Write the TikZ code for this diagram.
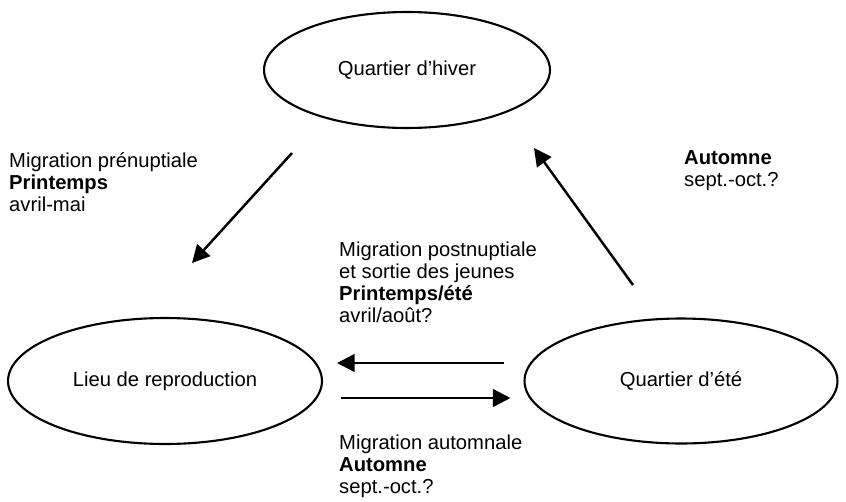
\documentclass[tikz,border=0pt]{standalone}
\usepackage{fontspec}
\defaultfontfeatures{}
\setmainfont{Liberation Sans}
\usetikzlibrary{arrows.meta,shapes.geometric}
\begin{document}
\begin{tikzpicture}[x=0.02cm,y=-0.02cm,line width=1.4pt,>={Triangle[length=10pt,width=10pt]},
		font=\fontsize{11.5}{12.5}\selectfont,
		lieu/.style={draw,ellipse,inner sep=0pt,line width=1.2pt},
		texte/.style={anchor=west,align=left,inner sep=0pt}]
	\useasboundingbox (0,0) rectangle (846,501);
	% les trois lieux
	\node[lieu,minimum width=5.72cm,minimum height=2.32cm] (hiver) at (407,70) {Quartier d'hiver};
	\node[lieu,minimum width=6.28cm,minimum height=2.52cm] (repro) at (165,381) {Lieu de reproduction};
	\node[lieu,minimum width=6.26cm,minimum height=2.50cm] (ete) at (681,381) {Quartier d'été};
	% fleches
	\coordinate (pre1) at (292,153);
	\coordinate (pre2) at (192,263);
	\draw[->] (pre1) -- (pre2);
	\coordinate (aut1) at (633,285);
	\coordinate (aut2) at (534,148);
	\draw[->] (aut1) -- (aut2);
	\draw[->] ([yshift=0.36cm,xshift=-0.38cm]ete.west) -- ([yshift=0.36cm,xshift=0.28cm]repro.east);
	\draw[->] ([yshift=-0.34cm,xshift=0.36cm]repro.east) -- ([yshift=-0.34cm,xshift=-0.26cm]ete.west);
	% textes
	\node[texte] (prenup) at (8,182) {Migration prénuptiale\\\textbf{Printemps}\\avril-mai};
	\node[texte] (automne) at (683,171) {\textbf{Automne}\\sept.-oct.?};
	\node[texte] (postnup) at (338,282) {Migration postnuptiale\\et sortie des jeunes\\\textbf{Printemps/été}\\avril/août?};
	\node[texte] (automnale) at (338,466) {Migration automnale\\\textbf{Automne}\\sept.-oct.?};
\end{tikzpicture}
\end{document}
